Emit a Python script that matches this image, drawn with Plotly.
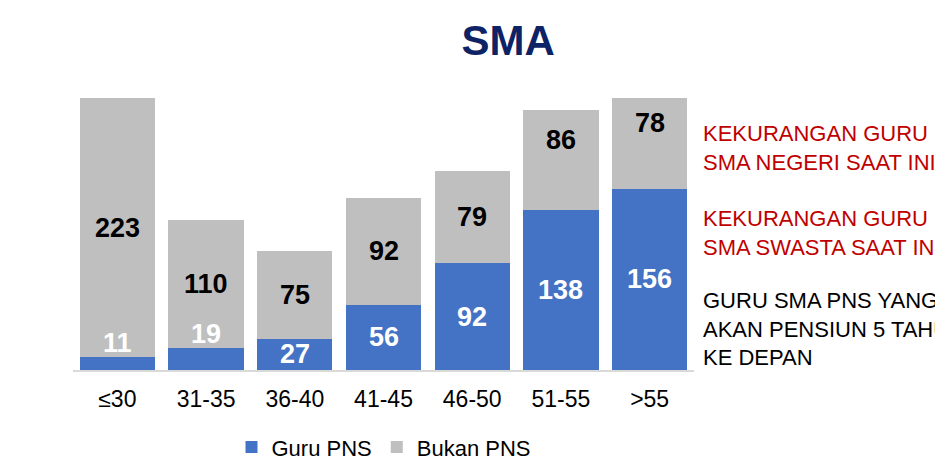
import plotly.graph_objects as go

categories = ["≤30", "31-35", "36-40", "41-45", "46-50", "51-55", ">55"]
guru_pns = [11, 19, 27, 56, 92, 138, 156]
bukan_pns = [223, 110, 75, 92, 79, 86, 78]

BLUE = "#4472C4"
GREY = "#BFBFBF"
FONT = "Liberation Sans, Arial, sans-serif"

fig = go.Figure()
fig.add_trace(go.Bar(name="Guru PNS", x=categories, y=guru_pns, marker_color=BLUE,
                     marker_line_width=0))
fig.add_trace(go.Bar(name="Bukan PNS", x=categories, y=bukan_pns, marker_color=GREY,
                     marker_line_width=0))

# value labels
label_shift = [0, 0, 0, 0, 0, 20, 20]
for c, p, b, s in zip(categories, guru_pns, bukan_pns, label_shift):
    y_p = p + 12 if p < 22 else p / 2
    fig.add_annotation(x=c, y=y_p, text=f"<b>{p}</b>", showarrow=False,
                       font=dict(family=FONT, size=27, color="white"))
    fig.add_annotation(x=c, y=p + b / 2, yshift=s, text=f"<b>{b}</b>", showarrow=False,
                       font=dict(family=FONT, size=27, color="black"))

# right-hand notes
notes = [
    ("KEKURANGAN GURU<br>SMA NEGERI SAAT INI", "#C00000", 0.816),
    ("KEKURANGAN GURU<br>SMA SWASTA SAAT INI", "#C00000", 0.504),
    ("GURU SMA PNS YANG<br>AKAN PENSIUN 5 TAHUN<br>KE DEPAN", "black", 0.15),
]
for txt, col, yy in notes:
    fig.add_annotation(xref="paper", yref="paper", x=1.012, y=yy, text=txt,
                       showarrow=False, xanchor="left", yanchor="middle", align="left",
                       font=dict(family=FONT, size=22, color=col))

H = 490
fig.update_layout(
    width=935, height=H,
    margin=dict(l=65, r=249, t=90, b=H - 362),
    barmode="stack", bargap=0.15,
    plot_bgcolor="white", paper_bgcolor="white",
    font=dict(family=FONT, size=23, color="black"),
    title=dict(text="<b>SMA</b>", x=0.535, xref="container", xanchor="center",
               y=1 - 32 / H, yref="container", yanchor="middle",
               font=dict(family=FONT, size=42, color="#0D2366")),
    showlegend=True,
    legend=dict(orientation="h", x=0.5, xanchor="center", y=-0.284, yanchor="middle",
                font=dict(family=FONT, size=22), itemwidth=30, traceorder="normal"),
    xaxis=dict(showline=True, linecolor="#D9D9D9", linewidth=1.5, ticks="",
               ticklabelstandoff=8,
               tickfont=dict(family=FONT, size=23, color="black"), showgrid=False),
    yaxis=dict(range=[0, 234], visible=False, showgrid=False),
)

fig.write_html("out.html")
